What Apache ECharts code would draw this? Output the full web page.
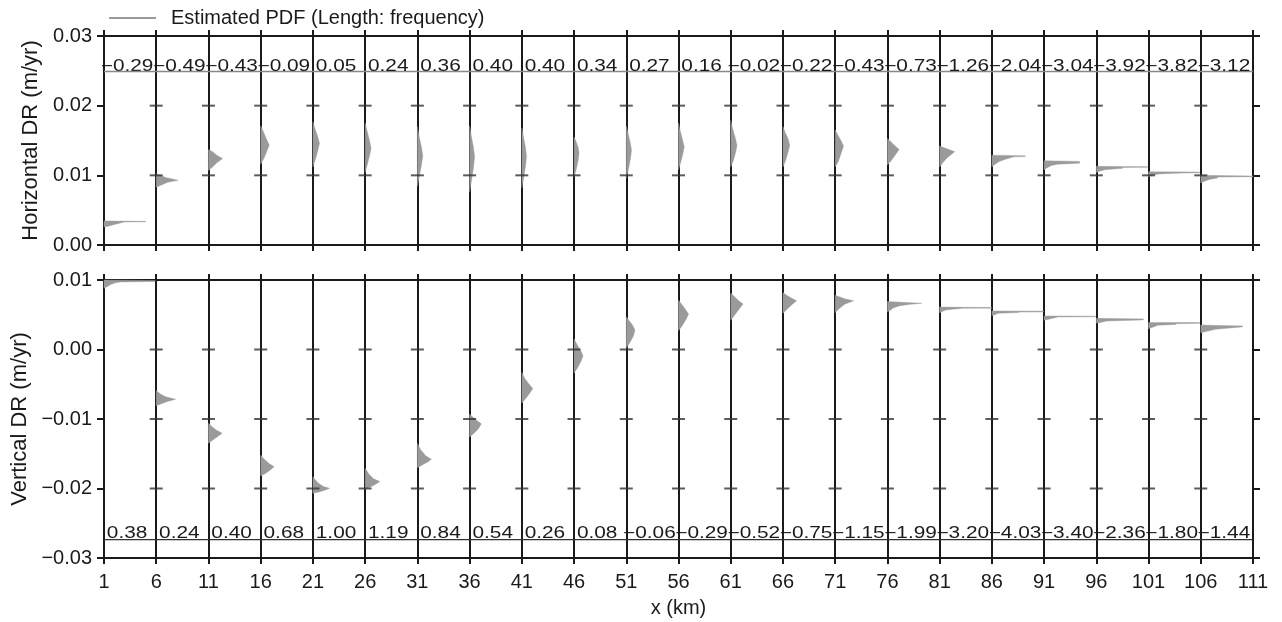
<!DOCTYPE html>
<html>
<head>
<meta charset="utf-8">
<script src="https://cdn.jsdelivr.net/npm/echarts@6/dist/echarts.min.js"></script>
<style>
  html, body { margin: 0; padding: 0; background: #fff; }
  #chart { width: 1282px; height: 622px; }
</style>
</head>
<body>
<div id="chart"></div>
<script>
// Profile stations along x (km); each one carries a histogram of the
// deformation rate drawn sideways, bar length = frequency (in km of x).
const stationX = [1, 6, 11, 16, 21, 26, 31, 36, 41, 46, 51, 56, 61, 66, 71, 76, 81, 86, 91, 96, 101, 106];

// Skewness printed above each horizontal-rate histogram
const hSkew = [-0.29, -0.49, -0.43, -0.09, 0.05, 0.24, 0.36, 0.40, 0.40, 0.34, 0.27, 0.16,
               -0.02, -0.22, -0.43, -0.73, -1.26, -2.04, -3.04, -3.92, -3.82, -3.12];
// Skewness printed under each vertical-rate histogram
const vSkew = [0.38, 0.24, 0.40, 0.68, 1.00, 1.19, 0.84, 0.54, 0.26, 0.08, -0.06, -0.29,
               -0.52, -0.75, -1.15, -1.99, -3.20, -4.03, -3.40, -2.36, -1.80, -1.44];

// Horizontal DR histograms: [rate (m/yr), frequency length (km)]
const hPdf = [
  [[0.0026,0],[0.0027,0.4],[0.0029,0.9],[0.0031,1.4],[0.0033,1.9],[0.00332,4.0],[0.0034,4.0],[0.00345,0]],
  [[0.0083,0],[0.0086,0.5],[0.0090,1.1],[0.0093,2.1],[0.0097,0.9],[0.0100,0.4],[0.0102,0]],
  [[0.0107,0],[0.0112,0.4],[0.0118,0.8],[0.0124,1.35],[0.0129,0.8],[0.0134,0.4],[0.0137,0]],
  [[0.0116,0],[0.0124,0.3],[0.0135,0.6],[0.01435,0.82],[0.0152,0.55],[0.0163,0.25],[0.0171,0]],
  [[0.0112,0],[0.0122,0.22],[0.0136,0.48],[0.0146,0.63],[0.0156,0.45],[0.0167,0.2],[0.0177,0]],
  [[0.0104,0],[0.0115,0.2],[0.0129,0.43],[0.0139,0.57],[0.0151,0.4],[0.0164,0.18],[0.0175,0]],
  [[0.0084,0],[0.0099,0.2],[0.0116,0.4],[0.0128,0.52],[0.0141,0.38],[0.0156,0.17],[0.0170,0]],
  [[0.0076,0],[0.0092,0.18],[0.0112,0.38],[0.0127,0.48],[0.0141,0.36],[0.0157,0.16],[0.0171,0]],
  [[0.0082,0],[0.0096,0.18],[0.0114,0.36],[0.0127,0.45],[0.0140,0.35],[0.0155,0.16],[0.0168,0]],
  [[0.0098,0],[0.0108,0.2],[0.0122,0.4],[0.0132,0.48],[0.0141,0.38],[0.0149,0.18],[0.0155,0]],
  [[0.0096,0],[0.0108,0.2],[0.0124,0.4],[0.0136,0.5],[0.0147,0.38],[0.0160,0.18],[0.0171,0]],
  [[0.0108,0],[0.0118,0.2],[0.0131,0.42],[0.0141,0.55],[0.0150,0.4],[0.0163,0.18],[0.0175,0]],
  [[0.0112,0],[0.0121,0.25],[0.0134,0.48],[0.0143,0.6],[0.0153,0.45],[0.0166,0.2],[0.0179,0]],
  [[0.0112,0],[0.0121,0.25],[0.0134,0.5],[0.0143,0.65],[0.0152,0.5],[0.0162,0.2],[0.0170,0]],
  [[0.0112,0],[0.0120,0.3],[0.0133,0.6],[0.0142,0.8],[0.0150,0.55],[0.0158,0.25],[0.0165,0]],
  [[0.0115,0],[0.0121,0.35],[0.0128,0.7],[0.0137,1.12],[0.0143,0.7],[0.0148,0.35],[0.0153,0]],
  [[0.0112,0],[0.0118,0.3],[0.0125,0.7],[0.0131,1.2],[0.0134,1.45],[0.0137,0.9],[0.0142,0]],
  [[0.0112,0],[0.0116,0.3],[0.0120,0.7],[0.0123,1.3],[0.01265,2.1],[0.0127,3.2],[0.0128,3.2],[0.0129,0]],
  [[0.0108,0],[0.0111,0.3],[0.0114,0.7],[0.0116,1.3],[0.01175,3.4],[0.0120,3.4],[0.0121,0]],
  [[0.0104,0],[0.0106,0.3],[0.0108,0.8],[0.0110,2.5],[0.01112,2.5],[0.01115,4.9],[0.01125,4.9],[0.0113,0]],
  [[0.0098,0],[0.0100,0.4],[0.0102,1.0],[0.01032,3.2],[0.01037,4.9],[0.01047,4.9],[0.0105,0]],
  [[0.0089,0],[0.0091,0.3],[0.0094,0.8],[0.0096,1.6],[0.00975,1.6],[0.0098,5.0],[0.0099,5.0],[0.0100,0]]
];

// Vertical DR histograms: [rate (m/yr), frequency length (km)]
const vPdf = [
  [[0.0088,0],[0.0091,0.35],[0.0094,0.7],[0.0096,1.1],[0.00972,1.6],[0.00978,4.9],[0.00992,4.9],[0.0100,0]],
  [[-0.0081,0],[-0.0078,0.5],[-0.0075,1.0],[-0.00717,1.85],[-0.0068,0.9],[-0.0064,0.4],[-0.0059,0]],
  [[-0.0135,0],[-0.0130,0.45],[-0.0125,0.9],[-0.01206,1.31],[-0.0116,0.75],[-0.0111,0.35],[-0.0106,0]],
  [[-0.0182,0],[-0.0178,0.5],[-0.0173,0.95],[-0.01686,1.28],[-0.0164,0.8],[-0.0158,0.35],[-0.0152,0]],
  [[-0.0207,0],[-0.0205,0.6],[-0.0202,1.2],[-0.01998,1.6],[-0.0197,1.0],[-0.0192,0.5],[-0.0187,0.2],[-0.0183,0]],
  [[-0.0201,0],[-0.0198,0.5],[-0.0194,1.0],[-0.0190,1.41],[-0.0186,0.8],[-0.0179,0.35],[-0.0171,0]],
  [[-0.0170,0],[-0.0166,0.5],[-0.0162,1.0],[-0.0158,1.34],[-0.0153,0.8],[-0.0144,0.3],[-0.0135,0]],
  [[-0.0126,0],[-0.0120,0.45],[-0.0114,0.85],[-0.0107,1.12],[-0.0102,0.7],[-0.0097,0.3],[-0.0093,0]],
  [[-0.0077,0],[-0.0070,0.4],[-0.0062,0.8],[-0.0056,1.05],[-0.0050,0.7],[-0.0042,0.3],[-0.0033,0]],
  [[-0.0034,0],[-0.0026,0.35],[-0.0016,0.7],[-0.0009,0.86],[-0.0002,0.65],[0.0007,0.3],[0.0015,0]],
  [[0.0002,0],[0.0010,0.35],[0.0020,0.7],[0.0028,0.83],[0.0035,0.6],[0.0041,0.3],[0.0047,0]],
  [[0.0027,0],[0.0034,0.35],[0.0044,0.75],[0.0051,0.96],[0.0058,0.65],[0.0065,0.3],[0.0071,0]],
  [[0.0042,0],[0.0050,0.4],[0.0059,0.85],[0.00655,1.18],[0.0071,0.7],[0.0077,0.3],[0.0081,0]],
  [[0.0052,0],[0.0058,0.4],[0.0065,0.9],[0.0070,1.31],[0.0074,0.8],[0.0078,0.35],[0.0082,0]],
  [[0.0053,0],[0.0059,0.4],[0.0065,0.9],[0.0070,1.76],[0.0073,0.9],[0.0076,0.4],[0.0078,0]],
  [[0.0054,0],[0.0057,0.3],[0.0060,0.6],[0.0063,1.2],[0.0065,2.2],[0.00665,3.29],[0.0069,0]],
  [[0.0053,0],[0.0055,0.3],[0.0057,0.6],[0.0058,1.2],[0.0059,2.1],[0.00593,2.1],[0.00595,5.0],[0.00605,5.0],[0.0061,0]],
  [[0.0049,0],[0.0050,0.3],[0.0052,0.6],[0.00532,2.6],[0.00538,2.6],[0.0054,4.95],[0.00552,4.95],[0.00555,0]],
  [[0.0042,0],[0.0043,0.3],[0.0045,0.8],[0.0046,1.2],[0.00468,1.2],[0.0047,4.95],[0.0048,4.95],[0.00482,0]],
  [[0.0038,0],[0.0039,0.4],[0.0041,1.0],[0.00425,4.4],[0.0044,4.57],[0.00449,0]],
  [[0.0030,0],[0.0032,0.4],[0.0035,0.9],[0.0036,2.6],[0.00372,2.6],[0.00377,4.9],[0.00387,4.9],[0.0039,0]],
  [[0.0024,0],[0.0026,0.5],[0.0029,1.4],[0.0031,2.8],[0.00325,3.9],[0.00338,4.05],[0.00352,0]]
];

// Rate tick values of each panel
const hTicks = [0.00, 0.01, 0.02, 0.03];
const vTicks = [-0.03, -0.02, -0.01, 0.00, 0.01];

// The x axis runs in km from the first station so that ticks land on 1, 6, 11, ...
const X0 = stationX[0];
const X_SPAN = 110;

const FONT = '"Liberation Sans", Arial, Helvetica, sans-serif';
const INK = '#1a1a1a';
const PDF_GRAY = '#9a9a9a';
const PDF_NAME = 'Estimated PDF (Length: frequency)';

const fmtRate = v => (v < -1e-9 ? '\u2212' : '') + Math.abs(v).toFixed(2);
const fmtSkew = v => (v < 0 ? '\u2212' : '') + Math.abs(v).toFixed(2);

const chart = echarts.init(document.getElementById('chart'), null, { renderer: 'canvas' });

function pdfRenderer(pdfs) {
  return function (params, api) {
    const i = params.dataIndex;
    const x = stationX[i] - X0;
    const pts = pdfs[i];
    const poly = [api.coord([x, pts[0][0]])];
    pts.forEach(p => poly.push(api.coord([x + p[1], p[0]])));
    poly.push(api.coord([x, pts[pts.length - 1][0]]));
    return {
      type: 'polygon',
      shape: { points: poly },
      style: { fill: PDF_GRAY, stroke: PDF_GRAY, lineWidth: 0.4 }
    };
  };
}

function skewRenderer(skews, textLevel, lineLevel, lineColor) {
  return function (params, api) {
    const i = params.dataIndex;
    const c = api.coord([stationX[i] - X0 + 2.5, textLevel]);
    const children = [{
      type: 'text',
      x: c[0] - 3,
      y: c[1],
      scaleX: 1.3,
      style: {
        text: fmtSkew(skews[i]),
        fontSize: 16,
        fontFamily: FONT,
        fill: INK,
        align: 'center',
        verticalAlign: 'middle',
        textAlign: 'center',
        textVerticalAlign: 'middle'
      }
    }];
    if (i === 0) {
      const a = api.coord([0, lineLevel]);
      const b = api.coord([X_SPAN, lineLevel]);
      children.push({
        type: 'line',
        shape: { x1: a[0], y1: a[1], x2: b[0], y2: b[1] },
        style: { stroke: lineColor, lineWidth: 1.4 }
      });
    }
    return { type: 'group', children: children };
  };
}

function crossData(ticks) {
  const out = [];
  stationX.forEach((x, i) => {
    if (i === 0) return;
    ticks.forEach((t, k) => {
      if (k === 0 || k === ticks.length - 1) return;
      out.push([x - X0, t]);
    });
  });
  return out;
}

const frameLine = { show: true, onZero: false, lineStyle: { color: INK, width: 2 } };
const outTick = len => ({ show: true, inside: false, length: len, lineStyle: { color: INK, width: 2 } });

function xAxes(grid, withLabels) {
  const base = {
    gridIndex: grid, type: 'value', min: 0, max: X_SPAN, interval: 5,
    axisLine: frameLine, axisTick: outTick(6)
  };
  return [
    Object.assign({}, base, {
      position: 'bottom',
      splitLine: { show: true, lineStyle: { color: INK, width: 2 } },
      axisLabel: withLabels
        ? { show: true, margin: 14, fontSize: 20, fontFamily: FONT, color: INK, formatter: v => String(v + X0) }
        : { show: false },
      name: withLabels ? 'x (km)' : '',
      nameLocation: 'middle',
      nameGap: 40,
      nameTextStyle: { fontSize: 20, fontFamily: FONT, color: INK }
    }),
    Object.assign({}, base, { position: 'top', splitLine: { show: false }, axisLabel: { show: false } })
  ];
}

function yAxes(grid, min, max, name, nameGap) {
  const base = {
    gridIndex: grid, type: 'value', min: min, max: max, interval: 0.01,
    axisLine: frameLine, axisTick: outTick(7), splitLine: { show: false }
  };
  return [
    Object.assign({}, base, {
      position: 'left',
      axisLabel: { show: true, margin: 12, fontSize: 20, fontFamily: FONT, color: INK, formatter: fmtRate },
      name: name, nameLocation: 'middle', nameGap: nameGap,
      nameTextStyle: { fontSize: 22, fontFamily: FONT, color: INK }
    }),
    Object.assign({}, base, { position: 'right', axisLabel: { show: false } })
  ];
}

const option = {
  animation: false,
  backgroundColor: '#fff',
  legend: {
    data: [PDF_NAME],
    left: 104,
    top: 3,
    icon: 'rect',
    itemWidth: 47,
    itemHeight: 2,
    textStyle: { fontSize: 20, fontFamily: FONT, color: INK, padding: [0, 0, 0, 10] }
  },
  grid: [
    { left: 104, right: 29, top: 36, height: 209, outerBoundsMode: 'none' },
    { left: 104, right: 29, top: 280, height: 278, outerBoundsMode: 'none' }
  ],
  xAxis: [].concat(xAxes(0, false), xAxes(1, true)),
  yAxis: [].concat(
    yAxes(0, 0, 0.03, 'Horizontal DR (m/yr)', 62),
    yAxes(1, -0.03, 0.01, 'Vertical DR (m/yr)', 71)
  ),
  series: [
    {
      type: 'custom', name: PDF_NAME, xAxisIndex: 0, yAxisIndex: 0,
      itemStyle: { color: PDF_GRAY }, silent: true,
      renderItem: pdfRenderer(hPdf),
      data: stationX.map((x, i) => [x - X0, hPdf[i][0][0]])
    },
    {
      type: 'custom', name: PDF_NAME, xAxisIndex: 2, yAxisIndex: 2,
      itemStyle: { color: PDF_GRAY }, silent: true,
      renderItem: pdfRenderer(vPdf),
      data: stationX.map((x, i) => [x - X0, vPdf[i][0][0]])
    },
    {
      type: 'scatter', xAxisIndex: 0, yAxisIndex: 0, silent: true,
      symbol: 'rect', symbolSize: [13, 2], itemStyle: { color: '#333' },
      data: crossData(hTicks)
    },
    {
      type: 'scatter', xAxisIndex: 2, yAxisIndex: 2, silent: true,
      symbol: 'rect', symbolSize: [13, 2], itemStyle: { color: '#333' },
      data: crossData(vTicks)
    },
    {
      type: 'custom', xAxisIndex: 0, yAxisIndex: 0, silent: true,
      renderItem: skewRenderer(hSkew, 0.02555, 0.0249, '#888'),
      data: stationX.map(x => [x - X0 + 2.5, 0.0256])
    },
    {
      type: 'custom', xAxisIndex: 2, yAxisIndex: 2, silent: true,
      renderItem: skewRenderer(vSkew, -0.0265, -0.02735, '#333'),
      data: stationX.map(x => [x - X0 + 2.5, -0.0264])
    }
  ]
};

chart.setOption(option);
</script>
</body>
</html>
